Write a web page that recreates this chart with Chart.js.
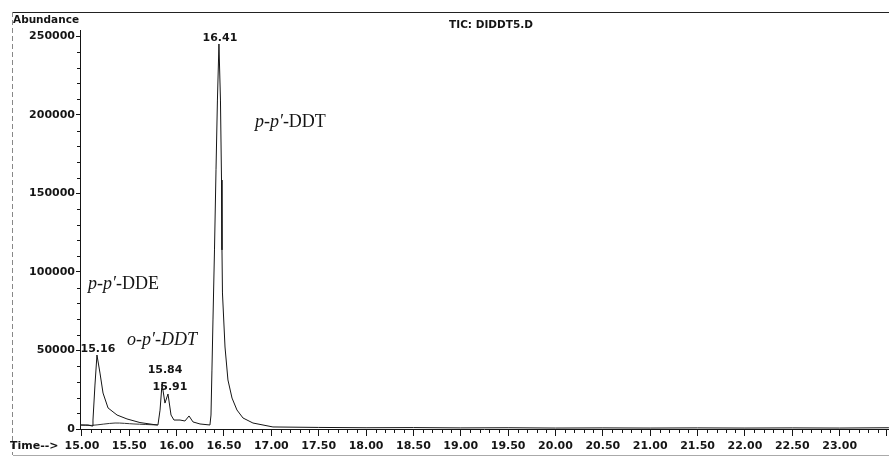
<!DOCTYPE html>
<html>
<head>
<meta charset="utf-8">
<script src="https://cdn.jsdelivr.net/npm/chart.js@4.4.1/dist/chart.umd.min.js"></script>
<style>
    html, body { margin: 0; padding: 0; background: #fff; }
    #tic { display: block; }
</style>
</head>
<body>
<canvas id="tic" width="891" height="459"></canvas>
<script>
// TIC trace: retention time (min) and abundance
const retentionTimes = [14.98, 15.064, 15.107, 15.117, 15.138, 15.159, 15.191, 15.223, 15.276, 15.371,
    15.476, 15.613, 15.751, 15.803, 15.825, 15.846, 15.877, 15.909, 15.941, 15.972,
    16.036, 16.088, 16.131, 16.173, 16.247, 16.352, 16.363, 16.373, 16.384, 16.4,
    16.416, 16.431, 16.447, 16.463, 16.474, 16.479, 16.484, 16.511, 16.542, 16.585,
    16.637, 16.701, 16.806, 17.017, 17.5, 18.0, 18.5, 19.0, 19.5, 20.0,
    20.5, 21.0, 21.5, 22.0, 22.5, 23.0, 23.52];
const abundance = [2550, 2550, 1900, 5700, 28000, 47100, 35600, 22900, 13400, 8900,
    6400, 4100, 2900, 2550, 12000, 28600, 16500, 22300, 8900, 5700,
    5700, 5100, 8300, 4500, 3200, 2550, 8900, 37500, 69400, 114000,
    165000, 209400, 245100, 209400, 158500, 114000, 86600, 52200, 31200, 19700,
    12100, 7000, 3800, 1300, 1000, 800, 900, 700, 800, 600,
    700, 600, 700, 600, 700, 600, 800];

// integration baseline drawn under the first peaks
const baselineTimes = [14.98, 15.10, 15.35, 15.55, 15.80];
const baselineAbundance = [2550, 2300, 3800, 3200, 2550];

// peak labels (text) and the apex they sit on
const peakLabels = ['15.16', '15.84', '15.91', '16.41'];
const peakApexTimes = [15.159, 15.846, 15.909, 16.447];

// axis ticks
const yTickValues = [0, 50000, 100000, 150000, 200000, 250000];

const TEXT = '#151515';
const SANS_BOLD = 'bold 11px "DejaVu Sans"';

// label nudges in px [dx, gap above apex]
const peakLabelOffsets = [[1, 3], [3, 11], [2, 4], [1, 3]];

// compound names: [text, italic] parts, anchored at (time, abundance)
const compounds = [
    { parts: [['p-p\u2032', true], ['-DDT', false]], t: 16.827, v: 192000 },
    { parts: [['p-p\u2032', true], ['-DDE', false]], t: 15.064, v: 89000 },
    { parts: [['o-p\u2032-DDT', true]], t: 15.476, v: 53500 },
];

const tracePoints = retentionTimes.map((t, i) => ({ x: t, y: abundance[i] }));
const baselinePoints = baselineTimes.map((t, i) => ({ x: t, y: baselineAbundance[i] }));

const decorPlugin = {
    id: 'decor',
    afterDraw(chart) {
        const { ctx, chartArea, scales: { x, y } } = chart;
        ctx.save();

        // minor ticks
        ctx.strokeStyle = TEXT;
        ctx.lineWidth = 1;
        ctx.beginPath();
        for (let k = 150; k <= 235; k++) {
            if (k % 5 === 0) continue;
            const px = Math.round(x.getPixelForValue(k / 10)) + 0.5;
            ctx.moveTo(px, chartArea.bottom);
            ctx.lineTo(px, chartArea.bottom + 4);
        }
        for (let k = 1; k <= 25; k++) {
            if (k % 5 === 0) continue;
            const py = Math.round(y.getPixelForValue(k * 10000)) + 0.5;
            ctx.moveTo(chartArea.left - 3, py);
            ctx.lineTo(chartArea.left, py);
        }
        ctx.stroke();

        // frame of the printout
        ctx.strokeStyle = '#222';
        ctx.beginPath();
        ctx.moveTo(13, 12.5);
        ctx.lineTo(889, 12.5);
        ctx.stroke();
        ctx.strokeStyle = '#888';
        ctx.setLineDash([5, 3]);
        ctx.beginPath();
        ctx.moveTo(12.5, 12);
        ctx.lineTo(12.5, 455);
        ctx.stroke();
        ctx.setLineDash([]);
        ctx.strokeStyle = '#aaa';
        ctx.beginPath();
        ctx.moveTo(13, 455.5);
        ctx.lineTo(889, 455.5);
        ctx.stroke();

        // header texts
        ctx.fillStyle = TEXT;
        ctx.textBaseline = 'alphabetic';
        ctx.font = 'bold 10.5px "DejaVu Sans"';
        ctx.textAlign = 'left';
        ctx.fillText('Abundance', 13, 23);
        ctx.textAlign = 'center';
        ctx.fillText('TIC: DIDDT5.D', 491, 28);
        ctx.font = SANS_BOLD;
        ctx.textAlign = 'left';
        ctx.fillText('Time-->', 10, 449);

        // peak retention labels
        ctx.textAlign = 'center';
        peakLabels.forEach((label, i) => {
            const idx = retentionTimes.indexOf(peakApexTimes[i]);
            const [dx, gap] = peakLabelOffsets[i];
            const px = x.getPixelForValue(peakApexTimes[i]) + dx;
            const py = y.getPixelForValue(abundance[idx]) - gap;
            ctx.fillText(label, px, py);
        });

        // compound names
        ctx.textAlign = 'left';
        compounds.forEach((c) => {
            let cx = x.getPixelForValue(c.t);
            const cy = y.getPixelForValue(c.v);
            c.parts.forEach(([txt, italic]) => {
                ctx.font = (italic ? 'italic ' : '') + '18px "Liberation Serif"';
                ctx.fillText(txt, cx, cy);
                cx += ctx.measureText(txt).width;
            });
        });

        ctx.restore();
    },
};

new Chart(document.getElementById('tic').getContext('2d'), {
    type: 'line',
    data: {
        datasets: [
            {
                data: tracePoints,
                borderColor: TEXT,
                borderWidth: 1,
                pointRadius: 0,
                tension: 0,
                fill: false,
            },
            {
                data: baselinePoints,
                borderColor: '#333',
                borderWidth: 1,
                pointRadius: 0,
                tension: 0.3,
                fill: false,
            },
        ],
    },
    options: {
        responsive: false,
        animation: false,
        events: [],
        layout: { padding: { top: 30, right: 2, left: 0, bottom: 0 } },
        plugins: {
            legend: { display: false },
            tooltip: { enabled: false },
        },
        scales: {
            x: {
                type: 'linear',
                min: 14.98,
                max: 23.52,
                border: { display: true, color: TEXT, width: 1 },
                grid: { drawOnChartArea: false, tickLength: 7, color: TEXT },
                ticks: {
                    stepSize: 0.5,
                    includeBounds: false,
                    autoSkip: false,
                    maxRotation: 0,
                    padding: 4,
                    color: TEXT,
                    font: { family: 'DejaVu Sans', size: 11, weight: 'bold' },
                    callback: (value) => (value > 23.2 ? '' : value.toFixed(2)),
                },
                afterFit: (scale) => { scale.height = 30; },
            },
            y: {
                min: 0,
                max: 254000,
                border: { display: true, color: TEXT, width: 1 },
                grid: { drawOnChartArea: false, tickLength: 4, color: TEXT },
                ticks: {
                    padding: 1,
                    color: TEXT,
                    font: { family: 'DejaVu Sans', size: 11, weight: 'bold' },
                    callback: (value) => String(value),
                },
                afterBuildTicks: (scale) => {
                    scale.ticks = yTickValues.map((value) => ({ value }));
                },
                afterFit: (scale) => { scale.width = 80; },
            },
        },
    },
    plugins: [decorPlugin],
});
</script>
</body>
</html>
